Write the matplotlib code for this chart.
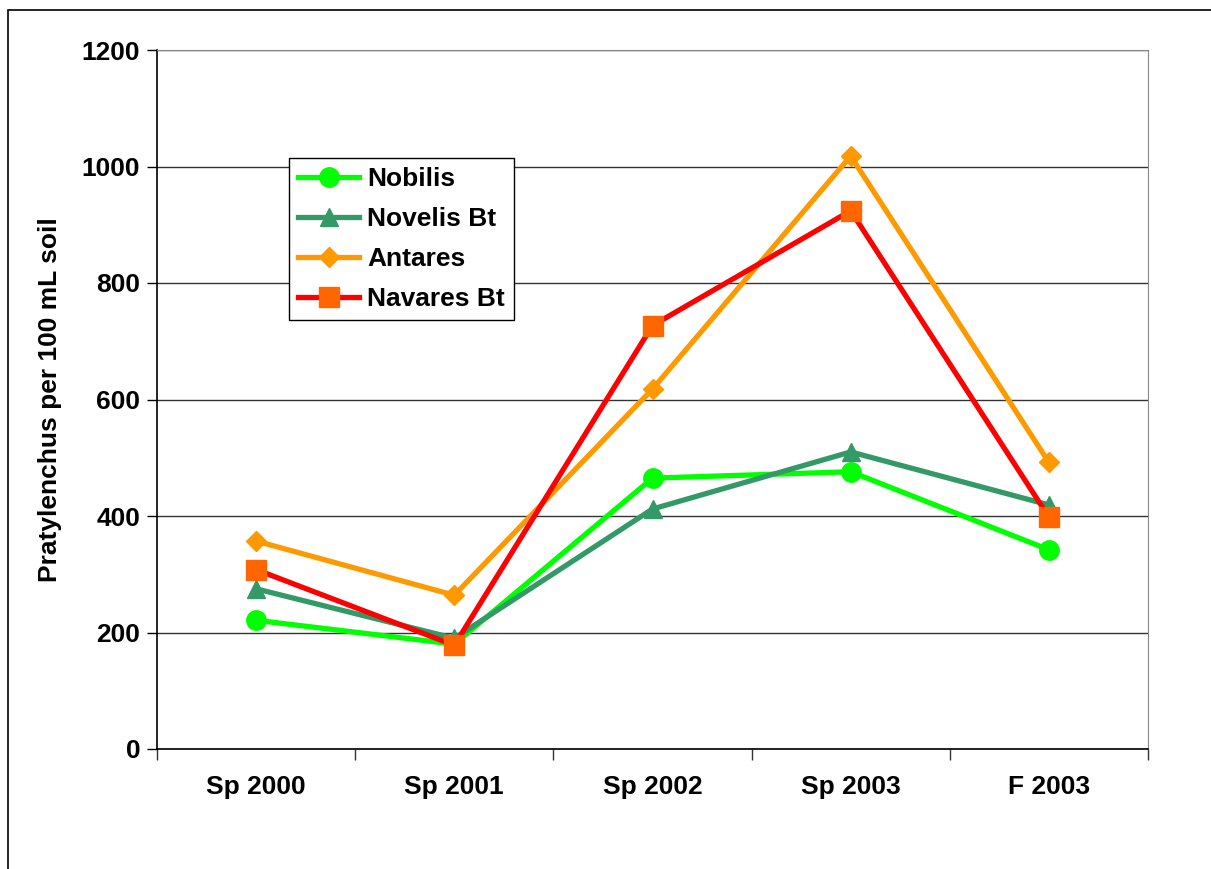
import matplotlib
matplotlib.use("Agg")
import matplotlib.pyplot as plt
from matplotlib.patches import Rectangle

categories = ["Sp 2000", "Sp 2001", "Sp 2002", "Sp 2003", "F 2003"]
nobilis = [221, 180, 465, 476, 342]
novelis_bt = [275, 190, 412, 510, 419]
antares = [357, 264, 618, 1018, 492]
navares_bt = [308, 178, 727, 924, 398]
y_ticks = [0, 200, 400, 600, 800, 1000, 1200]

plt.rcParams['font.family'] = ['Liberation Sans', 'DejaVu Sans']
plt.rcParams['font.weight'] = 'bold'

FS = 19
W, H = 1211, 869
fig = plt.figure(figsize=(W / 100, H / 100), dpi=100)
fig.patches.append(Rectangle((8 / W, -0.1), 1.2, 1 - 10 / H + 0.1, transform=fig.transFigure,
                             fill=False, edgecolor='black', linewidth=1.2))

ax = fig.add_axes([157 / W, 1 - 749 / H, (1148 - 157) / W, (749 - 50) / H])
x = list(range(len(categories)))

series = [
    ("Nobilis", nobilis, '#00FF00', '#00FF00', 'o', 14),
    ("Novelis Bt", novelis_bt, '#339966', '#339966', '^', 13),
    ("Antares", antares, '#FF9900', '#FF9900', 'D', 10),
    ("Navares Bt", navares_bt, '#FF0000', '#FF6600', 's', 15),
]
for name, vals, lc, mc, mk, ms in series:
    ax.plot(x, vals, color=lc, linewidth=3.8, marker=mk, markersize=ms,
            markerfacecolor=mc, markeredgecolor=mc, label=name, zorder=3)

ax.set_xlim(-0.5, len(categories) - 0.5)
ax.set_ylim(0, 1200)
ax.set_yticks(y_ticks)
ax.set_yticklabels([str(v) for v in y_ticks], fontsize=FS, fontweight='bold')
ax.set_xticks(x)
ax.set_xticklabels(categories, fontsize=FS, fontweight='bold')
ax.tick_params(axis='x', which='major', length=0, pad=19)
ax.set_xticks([i - 0.5 for i in range(len(categories) + 1)], minor=True)
ax.tick_params(axis='x', which='minor', length=8, width=1, direction='out', color='#333333')
ax.tick_params(axis='y', length=7, width=1, direction='out', pad=5)

ax.grid(axis='y', color='#333333', linewidth=1)
ax.set_axisbelow(True)
ax.spines['left'].set_color('black')
ax.spines['bottom'].set_color('black')
ax.spines['left'].set_linewidth(1.2)
ax.spines['bottom'].set_linewidth(1.2)
ax.spines['top'].set_color('#888888')
ax.spines['right'].set_color('#888888')

ax.set_ylabel("Pratylenchus per 100 mL soil", fontsize=FS, fontweight='bold', labelpad=14)

leg = ax.legend(loc='upper left', bbox_to_anchor=(289 / W, 1 - 158 / H),
                bbox_transform=fig.transFigure, fancybox=False, shadow=False,
                framealpha=1, edgecolor='black', prop={'weight': 'bold', 'size': FS},
                handlelength=2.3, borderpad=0.35, labelspacing=0.6, handletextpad=0.3,
                borderaxespad=0)
leg.get_frame().set_linewidth(1)

fig.savefig("out.png", dpi=100)
